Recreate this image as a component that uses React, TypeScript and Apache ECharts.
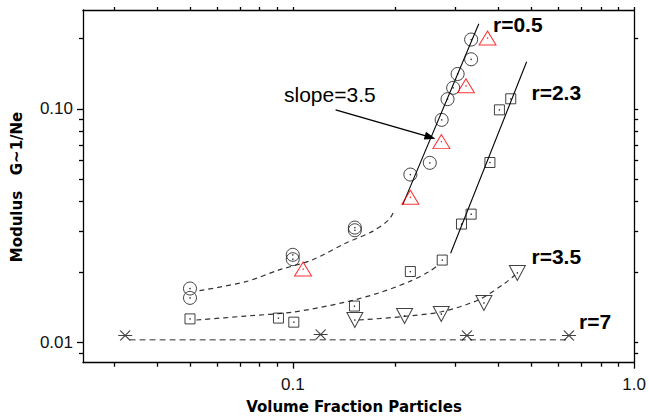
import React, { useEffect, useRef } from 'react';
import * as echarts from 'echarts';

// ---------- data ----------
const circleX = [0.333, 0.333, 0.304, 0.295, 0.284, 0.273, 0.252, 0.221, 0.152, 0.152, 0.1, 0.1, 0.05, 0.05];
const circleY = [0.198, 0.163, 0.141, 0.123, 0.110, 0.0897, 0.0587, 0.0523, 0.0310, 0.0302, 0.0237, 0.0227, 0.0170, 0.0155];

const triUpX = [0.372, 0.3215, 0.2725, 0.221, 0.1072];
const triUpY = [0.201, 0.1255, 0.0724, 0.0418, 0.0206];

const squareX = [0.435, 0.403, 0.378, 0.333, 0.312, 0.274, 0.221, 0.1516, 0.05, 0.0908, 0.1007];
const squareY = [0.1104, 0.099, 0.0589, 0.0354, 0.0321, 0.0225, 0.0201, 0.0143, 0.0126, 0.0127, 0.0122];

const triDownX = [0.152, 0.2126, 0.2723, 0.363, 0.4548];
const triDownY = [0.01246, 0.01297, 0.01322, 0.01474, 0.01982];

const starX = [0.0323, 0.1207, 0.3237, 0.644];
const starY = [0.0107, 0.0108, 0.0107, 0.0107];

// fitted curves
const fitR05DashX = [0.0533, 0.0729, 0.0912, 0.114, 0.1427, 0.1706, 0.1909, 0.1974];
const fitR05DashY = [0.01664, 0.01819, 0.02042, 0.02253, 0.02657, 0.02979, 0.03344, 0.03619];

const fitR23DashX = [0.0522, 0.0731, 0.1009, 0.143, 0.1785, 0.2183, 0.2497, 0.267];
const fitR23DashY = [0.01246, 0.01296, 0.01349, 0.01488, 0.01627, 0.01814, 0.02001, 0.02144];

const fitR35DashX = [0.1561, 0.2083, 0.2724, 0.3494, 0.4178, 0.4477];
const fitR35DashY = [0.01246, 0.01288, 0.01352, 0.01518, 0.0179, 0.01943];

const fitR7DashX = [0.0333, 0.644];
const fitR7DashY = [0.01026, 0.01026];

const slopeR05X = [0.2098, 0.3507];
const slopeR05Y = [0.03878, 0.2313];

const slopeR23X = [0.290, 0.4842];
const slopeR23Y = [0.02407, 0.159];

const arrowFrom = [0.1335, 0.099];
const arrowTo = [0.2526, 0.0756];

// axes
const X_MIN = 0.0243;
const X_MAX = 1.0;
const Y_MIN = 0.00818;
const Y_MAX = 0.265;
const xMajorTicks = [0.1, 1.0];
const xMajorLabels = ['0.1', '1.0'];
const xMinorTicks = [0.03, 0.04, 0.05, 0.06, 0.07, 0.08, 0.09, 0.2, 0.3, 0.4, 0.5, 0.6, 0.7, 0.8, 0.9];
const yMajorTicks = [0.01, 0.1];
const yMajorLabels = ['0.01', '0.10'];
const yMinorTicks = [0.009, 0.02, 0.03, 0.04, 0.05, 0.06, 0.07, 0.08, 0.09, 0.2];

const zip = (xs: number[], ys: number[]) => xs.map((x, i) => [x, ys[i]]);
const nearestLabel = (ticks: number[], labels: string[]) => (v: number) => {
  let best = 0;
  for (let i = 1; i < ticks.length; i++) {
    if (Math.abs(Math.log10(ticks[i]) - Math.log10(v)) < Math.abs(Math.log10(ticks[best]) - Math.log10(v))) best = i;
  }
  return labels[best];
};

const AXIS_COLOR = '#000';
const TICK_FONT = { fontFamily: 'Liberation Sans, Arial, sans-serif', fontSize: 17, color: '#111' };

export default function App() {
  const ref = useRef<HTMLDivElement>(null);
  useEffect(() => {
    if (!ref.current) return;
    const chart = echarts.init(ref.current, undefined, { renderer: 'svg' });
    const lineStyle = { color: AXIS_COLOR, width: 1.3 };
    const baseX = { type: 'log', min: X_MIN, max: X_MAX, gridIndex: 0, splitLine: { show: false }, minorTick: { show: false } } as any;
    const baseY = { type: 'log', min: Y_MIN, max: Y_MAX, gridIndex: 0, splitLine: { show: false }, minorTick: { show: false } } as any;
    const symbolStyle = (c: string) => ({ color: 'rgba(0,0,0,0)', borderColor: c, borderWidth: 1 });
    const dashed = (xs: number[], ys: number[], color: string, dash: number[], width: number) => ({
      type: 'line', data: zip(xs, ys), showSymbol: false, symbol: 'none', smooth: 0.3, silent: true,
      lineStyle: { color, width, type: dash }, z: 1,
    });

    const option: any = {
      animation: false,
      grid: { left: 83, top: 10, right: 12.3, bottom: 55.3, containLabel: false },
      xAxis: [
        { ...baseX, position: 'bottom',
          axisLine: { show: true, lineStyle },
          axisTick: { show: true, customValues: xMajorTicks, length: 6, lineStyle },
          axisLabel: { show: true, customValues: xMajorTicks, margin: 13, formatter: nearestLabel(xMajorTicks, xMajorLabels), ...TICK_FONT } },
        { ...baseX, position: 'bottom',
          axisLine: { show: false },
          axisTick: { show: true, customValues: xMinorTicks, length: 4, lineStyle },
          axisLabel: { show: false } },
        { ...baseX, position: 'top',
          axisLine: { show: true, lineStyle },
          axisTick: { show: true, customValues: [...xMinorTicks, ...xMajorTicks], length: 3, lineStyle },
          axisLabel: { show: false } },
      ],
      yAxis: [
        { ...baseY, position: 'left',
          axisLine: { show: true, lineStyle },
          axisTick: { show: true, customValues: yMajorTicks, length: 6, lineStyle },
          axisLabel: { show: true, customValues: yMajorTicks, margin: 10, formatter: nearestLabel(yMajorTicks, yMajorLabels), ...TICK_FONT } },
        { ...baseY, position: 'left',
          axisLine: { show: false },
          axisTick: { show: true, customValues: yMinorTicks, length: 4, lineStyle },
          axisLabel: { show: false } },
        { ...baseY, position: 'right',
          axisLine: { show: true, lineStyle },
          axisTick: { show: true, customValues: [...yMinorTicks, ...yMajorTicks], length: 4, lineStyle },
          axisLabel: { show: false } },
      ],
      series: [
        dashed(fitR05DashX, fitR05DashY, '#333', [5, 4], 1.2),
        dashed(fitR23DashX, fitR23DashY, '#333', [5, 4], 1.2),
        dashed(fitR35DashX, fitR35DashY, '#333', [5, 4], 1.2),
        dashed(fitR7DashX, fitR7DashY, '#777', [6, 4], 1.6),
        { type: 'line', data: zip(slopeR05X, slopeR05Y), showSymbol: false, symbol: 'none', silent: true,
          lineStyle: { color: '#000', width: 1.1 }, z: 2,
          markLine: { silent: true, symbol: ['none', 'triangle'], symbolSize: [8, 11], animation: false,
            lineStyle: { color: '#000', width: 1.4, type: 'solid' }, label: { show: false },
            data: [[{ coord: arrowFrom }, { coord: arrowTo }]] } },
        { type: 'line', data: zip(slopeR23X, slopeR23Y), showSymbol: false, symbol: 'none', silent: true,
          lineStyle: { color: '#000', width: 1.1 }, z: 2 },
        { type: 'scatter', data: zip(circleX, circleY), symbol: 'circle', symbolSize: 13, itemStyle: symbolStyle('#111'), z: 3 },
        { type: 'scatter', data: zip(triUpX, triUpY), symbol: 'triangle', symbolSize: [17, 14], itemStyle: symbolStyle('#ff0000'), z: 3 },
        { type: 'scatter', data: zip(squareX, squareY), symbol: 'rect', symbolSize: 10, itemStyle: symbolStyle('#111'), z: 3 },
        { type: 'scatter', data: zip(triDownX, triDownY), symbol: 'triangle', symbolRotate: 180, symbolSize: [16, 15], itemStyle: symbolStyle('#111'), z: 3 },
        { type: 'scatter', data: zip(starX, starY), symbol: 'path://M0,5L14,5M2,0L12,10M12,0L2,10', symbolSize: [14, 10],
          itemStyle: { color: 'rgba(0,0,0,0)', borderColor: '#111', borderWidth: 1.1 }, z: 3 },
        { type: 'scatter', data: [...zip(circleX, circleY), ...zip(squareX, squareY), ...zip(triDownX, triDownY)], symbol: 'circle', symbolSize: 1.5,
          itemStyle: { color: '#000' }, z: 4, silent: true },
        { type: 'scatter', data: zip(triUpX, triUpY), symbol: 'circle', symbolSize: 1.5, itemStyle: { color: '#f00' }, z: 4, silent: true },
      ],
      graphic: [
        { type: 'text', x: 284, y: 94.5, style: { text: 'slope=3.5', fontFamily: 'Liberation Sans, Arial, sans-serif', fontSize: 21, fill: '#000', verticalAlign: 'middle', align: 'left' } },
        { type: 'text', x: 493, y: 24, style: { text: 'r=0.5', fontFamily: 'Liberation Sans, Arial, sans-serif', fontWeight: 'bold', fontSize: 21, fill: '#000', verticalAlign: 'middle', align: 'left' } },
        { type: 'text', x: 531.5, y: 92.5, style: { text: 'r=2.3', fontFamily: 'Liberation Sans, Arial, sans-serif', fontWeight: 'bold', fontSize: 21, fill: '#000', verticalAlign: 'middle', align: 'left' } },
        { type: 'text', x: 531.5, y: 256, style: { text: 'r=3.5', fontFamily: 'Liberation Sans, Arial, sans-serif', fontWeight: 'bold', fontSize: 21, fill: '#000', verticalAlign: 'middle', align: 'left' } },
        { type: 'text', x: 579, y: 321.5, style: { text: 'r=7', fontFamily: 'Liberation Sans, Arial, sans-serif', fontWeight: 'bold', fontSize: 21, fill: '#000', verticalAlign: 'middle', align: 'left' } },
        { type: 'text', x: 354, y: 407, style: { text: 'Volume Fraction Particles', fontFamily: 'DejaVu Sans, sans-serif', fontWeight: 'bold', fontSize: 15, fill: '#000', verticalAlign: 'middle', align: 'center' } },
        { type: 'text', x: 17, y: 187, rotation: Math.PI / 2, style: { text: 'Modulus   G~1/Ne', fontFamily: 'DejaVu Sans, sans-serif', fontWeight: 'bold', fontSize: 15, fill: '#000', verticalAlign: 'middle', align: 'center' } },
      ],
    };
    chart.setOption(option);
    return () => chart.dispose();
  }, []);
  return <div ref={ref} style={{ position: 'fixed', left: 0, top: 0, width: 649, height: 418, background: '#fff' }} />;
}
